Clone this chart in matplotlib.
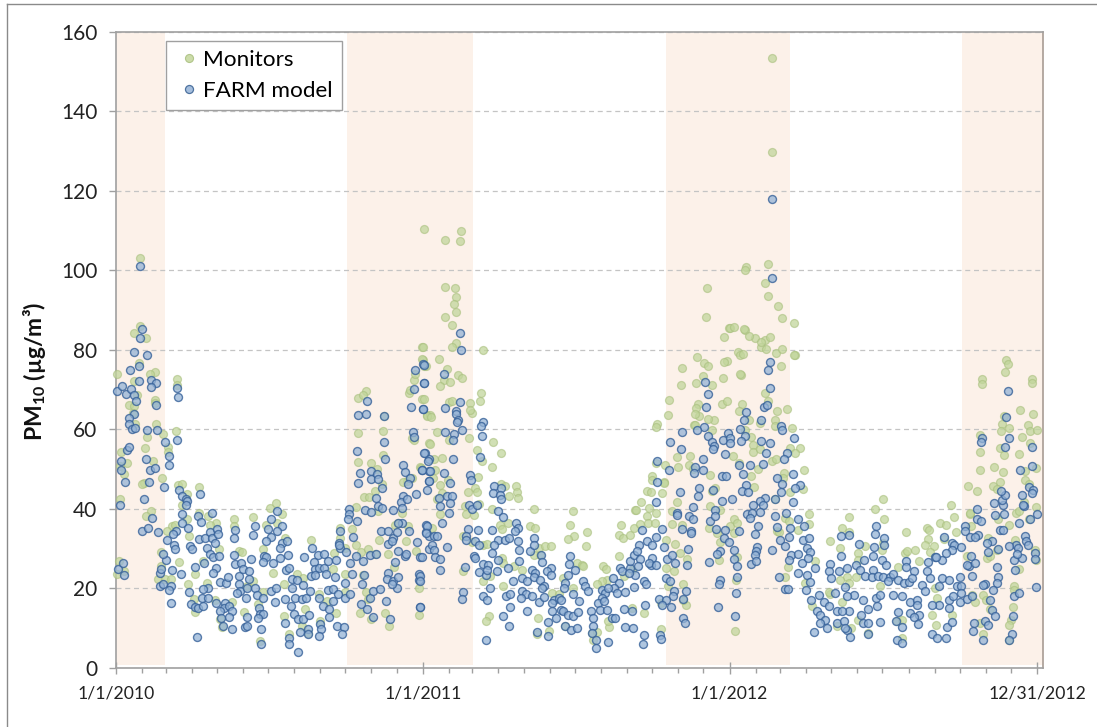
import numpy as np
import pandas as pd
import matplotlib
matplotlib.use('Agg')
import matplotlib.pyplot as plt
from matplotlib.lines import Line2D

plt.rcParams['font.family'] = ['Lato', 'DejaVu Sans']
plt.rcParams['mathtext.fontset'] = 'custom'
plt.rcParams['mathtext.bf'] = 'Lato:bold'
plt.rcParams['mathtext.rm'] = 'Lato'

# (days since 1/1/2010, PM10)
farm_a = [(1,69.7),(7,70.8),(12,68.8),(18,70),(21,68.7),(24,67.2),(17,74.8),(27,75.9),(31,85.2),(28,82.9),(22,79.5),(37,78.7),(27,72.2),(42,72.5),(47,71.7),(42,70.6),(48,66),(22,63.7),(15,62.9),(15,61.2),(19,60),(23,60.4),(37,59.8),(49,59.8),(58,56.9),(73,57.2),(13,54.7),(15,55.6),(6,52),(6,49.7),(11,46.7),(36,52.6),(40,49.6),(46,50.3),(39,46.7),(5,41),(33,42.3),(43,37.7),(31,34.4),(38,35),(50,34),(29,101),(74,68.2),(73,70.4),(63,53.2),(63,51.1),(57,45.4),(75,44.8),
 (78,43.3),(83,42.5),(85,41.9),(83,40.9),(79,38.6),(78,36.5),(100,43.8),(98,38.1),(101,36.7),(114,38.8),(86,35.2),(71,34.4),(68,33.5),(61,32),(69,30.8),(70,29.9),(60,27),(52,23.9),(54,24.7),(56,28.5),(52,20.5),(56,21),(66,20.5),(63,19.5),(67,24.5),(77,23.6),(65,16.3),(2,24.9),(8,26.2),(10,23.3),(94,25.3),(105,26.4),(88,30.6),(90,29.8),(99,32.3),(106,32.5),(112,34),(114,32.5),(120,34.8),(121,33.5),(118,31.3),(108,30.2),(112,28.7),(116,27.7),(123,28.1),(119,25.1),(115,23.7),(87,19.1),(109,20.1),(103,19.7),(124,21.6),(131,21.4),(133,22.8),
 (89,15.9),(94,15.3),(98,15.1),(104,15.5),(102,17.6),(109,17.6),(96,7.7),(119,16.2),(130,16.3),(128,15.1),(134,15.5),(138,14.2),(135,12.8),(124,14.2),(125,12.4),(127,10.5),(138,9.8),(140,28.2),(141,34.6),(140,32.5),(142,26),(149,26.4),(146,23),(151,24.7),(158,24.3),(161,27.2),(158,22.4),(146,21),(148,19.3),(144,18.7),(156,20.1),(165,19.9),(168,18.3),(155,17.4),(175,17.6),(165,35.6),(163,33.4),
 (185,37.5),(192,39.4),(198,35.5),(181,34.8),(191,34.4),(185,32.9),(179,31.9),(197,31.4),(203,31.9),(195,30.2),(176,28.1),(179,27.7),(187,26.4),(195,27.5),(205,28.3),(202,24.5),(206,25.1),(175,26.6),(156,12.6),(154,10.1),(170,15.1),(171,13.4),(175,13.4),(169,12.4),(173,9.6),(172,5.9),(156,10.5),(185,19.3),(190,20.1),(189,16.5),(201,17.2),(208,15.5),(201,11.1),(212,13.4),(217,12.2),(222,12.2),(206,7.5),(206,6),(217,3.8),
 (209,22.2),(215,22),(210,20.1),(222,20.8),(213,17.6),(221,17.2),(226,17.4),(231,19.3),(230,13.2),(219,9),(229,9.8),(228,8.5),(224,27.8),(233,30.2),(240,28.3),(247,28.5),(235,26.6),(237,24.7),(241,25.1),(232,23),(237,23.2),(248,25.1),(252,26.8),(262,27.1),(250,23.5),(260,22.8),(242,17.4),(246,15.5),(252,19.5),(258,19.7),(264,18.6),(258,16.8),(253,14.8),(254,12.7),(273,17.4),(279,18.4),(273,21.2),(243,10.9),(244,9.8),(242,8),(263,10.5),(271,10.3),(269,8.5),
 (265,31.4),(267,30.2),(267,34.4),(274,29.2),(282,32.9),(277,40),(277,38.6),(276,37.3),(287,37),(265,30.8),(279,26.2),(285,28.1),(294,26.8),(302,28.2),(309,28.7),(281,23.5),(295,23.3),(293,21),(292,15.9),(299,14.7),(306,12.7),(302,17.4),(306,19.3),(314,19.7),(321,16.8),(326,12.2),(288,63.5),(298,63.7),(299,67.2),(287,54.6),(290,49),(288,46.5),(319,63.3),(319,56.9),(320,52.6),(303,49.5),(303,47.5),(310,48.8),(312,47.4),(317,45.3),(309,42.8),(312,40.7),(317,40.2),(296,39.6),(303,39.1),
 (329,39.6),(340,36.5),(336,36.5),(330,32.7),(315,34.4),(324,34.4),(334,34.1),(349,34.4),(324,31),(328,31.9),(358,31.7),(335,29.3),(332,26.6),(344,28.1),(345,28.7),(362,27.8),(324,23.9),(322,22.2),(330,21.8),(335,22.8),(334,20),(328,21),(360,23.5),(360,22),(362,15.3),(342,51.1),(344,49.2),(350,47.8),(347,46.1),(357,43.8),(341,43.3),(339,41.7),(346,42.3),(340,40.2),(356,75),(365,76.3),(355,70),(366,71.7),(351,65.6),(365,65.1),(353,59.3),(355,58),(368,54.1),(372,52.4),(364,49.6),(372,49.5),(372,46.9),(370,44.7),(369,36),(369,34),(373,33),(373,29.8)]

farm_b = [(366,76.2),(367,71.6),(365,65),(390,73.8),(409,84.2),(411,80),(392,65.3),(404,64.7),(405,63.8),(407,62.4),(406,61.8),(409,66.8),(392,59.3),(402,58.8),(401,57.2),(412,59.8),(401,52.5),(367,54),(371,51.9),(374,49.5),(364,49.6),(390,49),(397,46.4),(373,46.9),(384,42.7),(394,43.1),(400,43.2),(398,41.4),(385,40.6),(396,38.9),(388,36.5),(370,35.7),(369,33.9),(378,33),(382,33.2),(376,30.9),(378,29.5),(380,27.8),(386,27.4),(394,30.3),(364,27.7),(386,24.6),(415,25.3),(362,23),(362,21.7),(419,34.9),(417,33),(416,32),(426,28),(427,27.6),(413,18.9),(412,17.3),(362,15.2),(421,48.5),(422,47.3),(420,41),(423,40),(430,40.8),(437,61.7),(434,60.9),(436,58.2),(433,52.9),
 (450,45.6),(458,45.2),(448,43.9),(457,43.5),(458,42.4),(455,39.3),(460,37.9),(476,36.4),(478,35.1),(475,34.3),(497,32.6),(431,34.5),(447,34.5),(427,31.8),(432,30.9),(454,32.2),(450,30.9),(463,32.2),(468,32.6),(478,31.8),(480,29.7),(493,29.4),(497,30.9),(506,28.4),(447,28.8),(454,27),(437,26.1),(443,25.9),(432,24),(440,23.4),(441,24.5),(453,24.2),(467,25.1),(480,26.7),(507,26.6),(495,24.6),(499,23.8),(517,25.1),(513,24.2),(518,23.4),(472,21.9),(483,22.5),(489,21.7),(497,22.8),(505,22.1),
 (445,19.9),(437,17.9),(442,16.9),(464,17.9),(469,18.4),(483,19.2),(488,18.4),(482,17.5),(495,17.9),(503,16.4),(509,20.5),(507,20),(509,17.7),(460,12.9),(468,10.4),(469,15.2),(489,14.2),(440,7),(501,9),(514,7.9),(514,11.5),(540,28),(539,26.1),(546,24.6),(538,23.4),(534,21.3),(533,20),(556,21.7),(558,20.5),(562,19.2),(544,18.4),(551,16.7),(521,17.1),(527,17.5),(530,17.1),(519,16.3),(519,14.2),(523,12.5),(529,14.6),(532,14.2),(538,13.3),(544,12.9),(550,13.9),(534,10.4),(541,9.4),(548,10),
 (565,14.2),(568,12.5),(568,10.4),(566,8.7),(571,6.8),(571,4.9),(586,6.4),(578,19.6),(582,18.8),(578,17.5),(574,16.3),(581,16.7),(576,14.6),(584,14.6),(590,12.5),(594,12.5),(600,25.1),(602,24.2),(591,22.5),(598,21.3),(593,20),(586,20),(596,18.8),(606,18.9),(616,20.2),(605,14.8),(614,14.2),(630,15.7),(606,10.2),(615,10),(628,8.3),(627,5.8),(612,25.1),(611,26.7),(616,28.4),(622,30.9),(620,29.3),(623,27.2),(618,23.4),(610,23.8),(628,21.7),(631,20.9),
 (626,34.5),(632,31.8),(638,30.9),(642,32.8),(650,34.9),(652,30.3),(636,25.9),(638,27.6),(634,26.3),(642,25.9),(621,25.5),(644,51.9),(644,46.6),(658,49.8),(642,41.7),(656,27.2),(661,28.4),(665,26.3),(679,25.9),(654,22.5),(659,21.7),(664,19.2),(663,17.9),(678,19.2),(675,17.3),(646,17.3),(654,17.1),(650,15.8),(660,15.2),(647,8.1),(649,7.2),(675,12.5),(677,11.2),(681,29.8),
 (671,44.1),(694,45.2),(693,43.3),(710,44.6),(687,40.3),(667,38.9),(667,38.5),(682,38.1),(687,37.4),(673,34.9),(684,34.3),(684,33.9),(707,36.8),(713,39.7),(713,38.1),(721,41.8),(673,59.4),(672,55),(659,56.9),(701,72),(704,68.9),(702,65.5),(700,60.5),(691,59.7),(704,58.3),(709,56.7),(711,55.8),(710,55),(722,57.3),(728,59),(725,53.7),(699,52.5),(689,50.6),(688,49),(698,49.8),(721,48.3),(726,48.3),(714,34.9),(725,34.5),(724,32.6),(729,31.5),(719,29.3),(715,28.6),(705,26.6),(719,22.1),(718,20.9),(716,15.2)]

farm_c = [(781,118),(781,98.1),(778,77),(776,74.8),(778,70.3),(750,64.3),(747,62.4),(768,62.4),(771,65.6),(775,66.2),(743,60.1),(749,58.2),(744,57),(731,57.8),(731,56.6),(768,57),(778,56.4),(774,54),(791,60.8),(792,59.9),(807,57.8),(798,54),(795,52.6),(770,51.3),(741,51.1),(754,51.1),(746,48.8),(786,47.6),(793,46.3),(806,48.7),(814,46),(808,45.2),(750,45.9),(745,44.5),(752,44.2),(791,44.1),(784,42.5),(805,41.7),(772,42.7),(766,41.8),(758,40.8),(770,41),
 (733,42.5),(751,38.7),(757,38.9),(766,39.1),(754,37.6),(784,38.1),(797,38.9),(764,35.5),(741,34.3),(787,35.4),(802,35),(760,33.6),(812,37.5),(819,35.5),(817,32.2),(825,32.7),(801,32.8),(790,32.2),(763,30.3),(762,29.4),(781,29.5),(796,30.5),(822,30.1),(826,29.1),(735,29.7),(735,27.3),(755,26.1),(760,28.2),(762,26.7),(739,25.6),(803,28.2),(801,27.1),(812,28.7),(816,26.3),(823,27.6),(739,22.9),(789,22.9),(738,18.7),(796,19.8),(800,19.8),(737,13),
 (832,25.1),(811,23.8),(822,23.2),(826,21.5),(821,19.6),(827,17.1),(849,26.1),(848,24.2),(851,22.5),(860,24.4),(870,25.1),(863,28),(863,33),(872,33.3),(884,31.2),(890,27),(881,25.7),(885,24.5),(891,23.1),(901,24.5),(899,22.8),(901,28),(902,30.4),(904,35.7),(903,33.6),(914,32.7),(914,30.9),(912,27),(916,25.9),
 (867,20.2),(856,18.7),(878,18.3),(870,17.9),(836,18.2),(842,16.6),(848,15.4),(834,14.1),(838,13.3),(858,14.3),(872,14.3),(864,14.1),(844,12),(838,11.2),(858,11.2),(866,11.6),(870,9.5),(873,7.8),(868,10),(830,8.9),(846,9.9),(889,17.1),(904,17.5),(909,18.2),(905,15.4),(895,14.7),(887,13.3),(889,11.2),(895,11.2),(909,11.4),(895,8.4),(929,7),(935,6.1),(935,10.1),(930,14),(928,11.8),
 (907,23.1),(913,22.8),(921,22.9),(925,23.5),(919,21.7),(931,22.1),(938,21.3),(943,21.5),(949,24.3),(947,22.6),(940,26.9),(940,25.3),(966,26.6),(965,24.4),(974,27.8),(983,27),(995,31.3),(985,32.9),(997,30.9),(995,29.6),(987,28.9),(976,27.8),(925,18.3),(935,17.9),(945,16.6),(953,17.1),(959,20.8),(963,19.2),(969,22.5),(979,20.4),(983,22.5),(991,22.1),(1001,20.4),(1005,20.4),(1004,22.7),(991,17.1),(996,18.1),(1004,16.4),(1012,17.2),(979,15.8),(971,15.8),
 (945,13.7),(953,15.8),(955,13.3),(949,12.7),(954,11),(971,8.5),(977,7.4),(988,7.4),(989,10.3),(995,11.4),(991,15),(1010,35.5),(1010,34.3),(1016,32.9),(1026,33.4),(1022,32.9),(1024,39.8),(1024,37.5),(1029,36.8),(1052,34.7),(1056,34.5),(1046,38.3),(1055,40.8),(1045,41.4),(1054,42.1),(1058,43.5),(1053,44.5),(1057,38.6),(1074,36.4),(1078,43.4),(1080,40.6),(1079,41),(1086,45.4),(1091,44.6),(1090,44),(1096,38.7),(1088,37.5),
 (1076,49.8),(1090,50.7),(1090,55.5),(1061,69.6),(1059,63),(1058,55.5),(1062,57.8),(1031,57.8),(1029,56.7),(1082,33),(1083,31.9),(1085,30.9),(1071,30.9),(1073,30.1),(1078,27.6),(1068,27.1),(1072,28.7),(1093,28.9),(1094,27.3),(1063,30.7),(1050,29.9),(1042,31.8),(1036,31.4),(1037,29),(1048,25.2),(1050,22.8),(1048,21.4),(1043,19.6),(1034,21.1),(1032,20.8),(1015,25.5),(1013,25.9),(1022,26.3),(1017,28),(1018,23.1),(1006,30.3),(1005,18.7),(1018,17.9),(1095,20.2),(1068,18.1),(1074,18.7),(1070,24.6),
 (1042,14.5),(1040,17.1),(1046,13),(1021,11.3),(1020,9.3),(1034,11.6),(1037,10.6),(1032,7),(1067,13),(1066,8.5),(1063,6.8)]

monitors_a = [(29,103.1),(28,86.1),(22,84.2),(36,82.9),(1,74),(27,76.7),(46,74.4),(40,73.8),(73,72.7),(73,71.2),(21,72.1),(25,68.5),(46,67.3),(46,66.6),(15,66.2),(21,65.8),(20,64.1),(48,61.4),(23,61.2),(71,59.5),(56,58.7),(37,58),(62,55.6),(35,55.3),(62,54.3),(6,54.3),(13,51.4),(44,52),(5,50.7),(10,48.6),(55,47.8),(33,46.4),(31,46.1),(74,45.9),(79,46.1),(84,43.8),(99,45.4),(5,42.3),(42,39.4),(36,38.1),(78,40.9),(99,39),(110,38.1),(85,37.5),(119,36.3),(112,35.8),(67,35.6),(61,34.4),(70,36),(140,37.3),(163,38),(140,35.6),(87,33.1),
 (183,40.2),(190,41.5),(197,38.6),(179,36),(191,36.5),(201,32.7),(54,29.1),(75,26.6),(122,29.8),(146,29.3),(150,29.1),(175,29.8),(3,26.8),(1,23.6),(9,24.3),(54,25.6),(50,22.2),(58,22.2),(65,22.2),(103,26.8),(94,23.6),(86,21),(108,21.4),(232,32.1),(259,28.9),(273,30.2),(267,32.7),(267,35.2),(215,23.5),(222,22.6),(187,23.9),(200,21),(163,21.8),(156,20.4),(258,24.7),(273,23.5),(93,17.2),(118,16.9),(138,16.6),(94,14),(124,12.3),(152,14),(169,15.9),(175,18.9),(200,13),(225,14.7),(243,11.6),(126,10.1),(171,6.7),(206,8.4),(221,10.5),(228,8.8),(241,18.4),(251,16.8),(262,13.8),(273,18.9),
 (281,34.8),(285,30.8),(285,40.4),(292,29.1),(300,29.9),(308,28.7),(294,23.3),(288,51.7),(288,59.1),(288,67.9),(297,69.7),(294,68.7),(304,51.4),(310,50),(308,44.4),(295,43),(301,43),(317,46.1),(312,39.4),(318,59.5),(318,53.6),(319,63.3),(290,13.8),(298,18.9),(300,17.2),(304,12.2),(320,13.7),(325,10.5),(313,32),(324,28.5),(331,25.3),(345,31.9),(336,36.5),(332,36),(348,35.6),(340,39),(346,46.9),(342,46.7),(352,47.8),(362,50.5),(372,56.6),(357,29.3),(360,19.9),(361,13.2),(349,69.2),(350,69.8),(355,72.5),(356,73.9),(364,80.7),(365,77.5),(369,76),(364,67.6),(370,63.5),(374,63.5),(352,57.7),(354,57.4)]

monitors_b = [(366,110.3),(391,107.6),(411,109.9),(409,107.4),(392,95.9),(403,95.6),(405,93.2),(402,91.4),(405,89.6),(391,88.3),(400,86.2),(405,81.8),(400,80.7),(365,80.8),(364,77.7),(367,76),(384,77.6),(394,75.2),(390,72.4),(398,71.8),(385,70.9),(407,73.7),(412,72.8),(366,67.6),(396,66.8),(400,67.1),(421,66.6),(423,64.2),(421,64.9),(370,63.4),(375,63),(382,59.4),(396,57.3),(420,57.9),(374,56.3),(437,80),(434,69.2),(433,67.1),(448,56.7),(458,54),(430,54.8),(447,50.6),(435,51.9),(431,47.9),(378,52.5),(388,52.7),(363,50.2),(380,49.6),(377,47.7),(395,47.3),(386,46),
 (427,45.2),(429,44.1),(419,44.2),(458,46.2),(463,45.6),(476,45.6),(477,44.3),(468,43.1),(478,42.7),(388,43.9),(382,42.4),(386,38.7),(415,40.6),(417,38.7),(426,38.5),(432,41.2),(447,39.9),(497,40),(544,39.5),(376,35.1),(413,33),(423,31.5),(413,24.2),(457,36),(467,36.4),(459,34.9),(493,35.7),(499,35.1),(540,36),(545,33.2),(538,32.4),(560,34),(559,30.7),(437,30.9),(441,31.2),(503,30.1),(511,30.7),(517,30.7),(504,28.4),(497,28.4),(459,27.6),(461,26.3),(461,20.5),(445,23),(437,21.7),(483,24.6),(473,25.5),
 (548,26.3),(554,25.9),(556,25.5),(532,22.5),(544,20),(519,18.8),(527,18.4),(580,25.5),(583,24.9),(584,22.1),(578,21.7),(572,20.9),(502,12.5),(444,12.9),(440,11.7),(515,9.1),(501,8.5),(568,7),(566,8.7),(572,8.9),(587,10.2),(586,11.7),(614,15),(628,13.7),(648,9.6),(648,16.3),(534,10.4),(601,36),(618,39.7),(625,41.6),(619,39.7),(599,33.4),(603,32.6),(612,33.4),(616,35.1),(624,36.2),(632,38.1),(633,36.5),(641,36.4),(642,38.9),(634,40.2),(599,28),(632,44.5),(637,44.2),(650,43.9),(638,48.1),(638,47.3),(652,46.6),(653,51),(642,51.5),(644,61.4),(643,60.5),(657,63.6),(658,67.4),
 (655,32.2),(665,31.2),(654,25.1),(664,24.2),(657,20.5),(675,20.9),(678,15.7),(675,17.1),(605,23),(614,24.6),(667,41.6),(662,39.3),(661,36.2),(673,36),(671,28.8),(679,27.2),(712,62.4),(709,59.7),(688,61.1),(703,95.6),(702,88.3),(729,85.6),(723,83.1),(673,75.5),(672,71),(691,78.1),(700,76.6),(704,75.8),(699,73.3),(690,71.6),(709,71.2),(722,72.8),(727,77.2),(724,76.8),(721,66.3),(727,67),(693,66.4),(690,65.3),(694,63.4),(689,63.8),(704,62.5),(689,61.1),(667,53),(669,50.6),(683,53.3),(682,51),(687,50),(707,48.4),(652,46.4),(713,45.2),(709,44.5),(719,39.7),(707,40.6),(705,35.1),(719,31.5),(717,27),(715,33.9)]

monitors_c = [(781,153.4),(781,129.7),(776,101.6),(750,100.9),(748,100.2),(772,96.9),(776,93.6),(788,91),(793,88),(807,86.8),(731,85.5),(735,85.7),(748,85),(740,79.5),(760,83),(772,82.5),(768,80.8),(785,79.3),(808,78.7),(744,73.7),(747,85.1),(753,83.4),(778,83.3),(768,82),(774,80.2),(792,80.1),(807,78.8),(791,75.9),(742,78.8),(746,79),(743,73.8),(772,69),(776,67.2),(745,66.4),(741,64.7),(786,64.5),(798,65.1),(784,62.4),(753,62.4),(766,61.6),(784,60.8),(804,60.3),(749,59.9),(756,58),(758,56.1),(758,54.2),(766,54.9),(814,55.3),(802,55.3),(808,53.9),(780,51.9),(785,52.4),(764,50),(734,53.2),(741,51.5),(755,48.2),(819,49.6),(795,49),(759,45.4),(802,44.2),(818,45),(784,42.4),(794,47.7),
 (825,38.7),(825,36.1),(812,34.7),(872,37.8),(864,35),(872,34.1),(850,31.8),(913,42.4),(903,39.9),(914,37.4),(940,34.1),(965,35),(967,34.7),(993,40.8),(997,37.9),(981,36.4),(987,36),(999,34.1),(966,32.4),(963,30.9),(973,30.5),(985,32.4),(1016,38.7),(1014,45.8),(1024,44.5),(1030,72.7),(1031,71.4),(1058,74.5),(1059,77.4),(1061,76.4),(1090,72.7),(1090,71.7),(1076,64.8),(1091,63.7),(1028,54.3),(1028,58.5),(1028,49.6),(1057,63.3),(1054,61.4),(1062,60.3),(1053,59.5),(1085,61),(1088,59.5),(1096,59.9),(1078,58),(1052,55.3),(1057,53.6),(1074,53.8),(1087,56.4),
 (1045,50.5),(1056,49.2),(1081,49.4),(1082,47.3),(1086,46.2),(1052,46.6),(1044,45.6),(1048,45),(1095,50.3),(1080,41.7),(1095,40.3),(1071,38.9),(1074,39.3),(1050,37.5),(1063,36),(1086,37.5),(1016,38.9),(1070,32.2),(1038,32.6),(1094,29.7),(1095,27.1),(1036,27.6),(1040,28),(1074,24.9),(1048,29.7),(1012,28),(1017,35.5),(1018,18.3),(1022,16.4),(1032,18.3),(1035,17.1),(1040,14.7),(1068,20.4),(1069,19.4),(1067,15.2),(1065,12),(1063,10.8),(1032,8.5),(1063,6.8),(935,7.4),(976,10.8),(1028,11.2),
 (736,9.3),(738,22.1),(731,35.5),(735,37.4),(739,36.4),(735,33.9),(739,27.7),(786,34.3),(789,34),(796,37.6),(801,36.8),(800,25.3),(796,22.7),(832,26.7),(820,21.4),(862,30),(883,28.8),(891,30.6),(911,29.6),(913,31.3),(939,28.9),(951,29.7),(941,29.4),(931,25.3),(955,26.7),(969,29.2),(883,27.1),(870,22.9),(880,22.9),(862,22.1),(872,21.3),(909,20.4),(850,18.5),(848,18.9),(828,15.4),(864,16.6),(874,9.9),(858,10.5),(895,8.6),(883,12),(971,13.3),(977,17.5),(975,20),(995,13.3),(929,11.8),(935,12)]

band_start = [0, 275, 654.5, 1007]
band_end = [58, 425, 802, 1103]
year_days = [0, 365, 730, 1096]
year_labels = ['1/1/2010', '1/1/2011', '1/1/2012', '12/31/2012']
y_ticks = [0, 20, 40, 60, 80, 100, 120, 140, 160]

W, H = 1097, 727
fig = plt.figure(figsize=(W / 100, H / 100), dpi=100)
ax = fig.add_axes([116 / W, 1 - 667.5 / H, (1043 - 116) / W, (667.5 - 32) / H])

for a, b in zip(band_start, band_end):
	ax.axvspan(a, b, ymin=0.004, ymax=1, color='#fcf1e9', lw=0, zorder=0)

ax.set_axisbelow(True)
ax.yaxis.grid(True, ls=(0, (4, 3)), color='#c4c4c4', lw=0.9, zorder=1)

mon = np.array(monitors_a + monitors_b + monitors_c)
farm = np.array(farm_a + farm_b + farm_c)
ax.scatter(mon[:, 0], mon[:, 1], s=33, facecolors=(0.76, 0.84, 0.61, 0.75), edgecolors=(0.66, 0.75, 0.49, 0.6), linewidths=0.9, zorder=3, clip_on=False)
ax.scatter(farm[:, 0], farm[:, 1], s=33, facecolors=(0.58, 0.70, 0.84, 0.75), edgecolors=(0.21, 0.38, 0.60, 0.8), linewidths=1.0, zorder=4, clip_on=False)

ax.set_xlim(0, 1103)
ax.set_ylim(0, 160)
ax.set_yticks(y_ticks)
months = pd.date_range('2010-01-01', '2012-12-01', freq='MS')
month_days = [(m - pd.Timestamp('2010-01-01')).days for m in months]
ax.set_xticks(month_days, minor=True)
ax.set_xticks(year_days)
ax.set_xticklabels(year_labels)
ax.tick_params(axis='x', which='major', direction='inout', length=8, width=1, color='#a0a0a0', labelsize=12.7, labelcolor='#222222', pad=8.7)
ax.tick_params(axis='x', which='minor', direction='out', length=3.6, width=1, color='#a0a0a0')
ax.tick_params(axis='y', direction='out', length=5, width=1, color='#a0a0a0', labelsize=15, labelcolor='#222222', pad=8.5)
for s in ax.spines.values():
	s.set_color('#a0a0a0')
	s.set_linewidth(1.2)
ax.spines['right'].set_color('#a89c94')

ax.text(35 / W, 1 - 371 / H, r'PM$_{\mathbf{10}}$ (µg/m³)', transform=fig.transFigure, rotation=90, ha='center', va='center', fontsize=16.5, fontweight='bold', color='#111111')

handles = [Line2D([], [], ls='', marker='o', ms=5.8, mfc='#c3d69b', mec='#a9bf7e', mew=0.8, alpha=0.85),
           Line2D([], [], ls='', marker='o', ms=5.8, mfc='#95b3d7', mec='#376092', mew=0.9, alpha=0.85)]
leg = ax.legend(handles, ['Monitors', 'FARM model'], loc='upper left', bbox_to_anchor=((166 - 116) / 927, 1 - 9 / 635.5), borderaxespad=0, frameon=True, fancybox=False, framealpha=1, edgecolor='#a0a0a0', fontsize=16.2, labelspacing=0.5, handletextpad=0.04, borderpad=0.4, handlelength=1.2)
leg.get_frame().set_linewidth(1)
leg.set_zorder(6)

# outer chart border, left and top
fig.add_artist(Line2D([7 / W, 7 / W], [0, 1 - 4 / H], color='#8a8a8a', lw=1))
fig.add_artist(Line2D([7 / W, 1], [1 - 4 / H, 1 - 4 / H], color='#8a8a8a', lw=1))

fig.savefig('out.png', dpi=100)
